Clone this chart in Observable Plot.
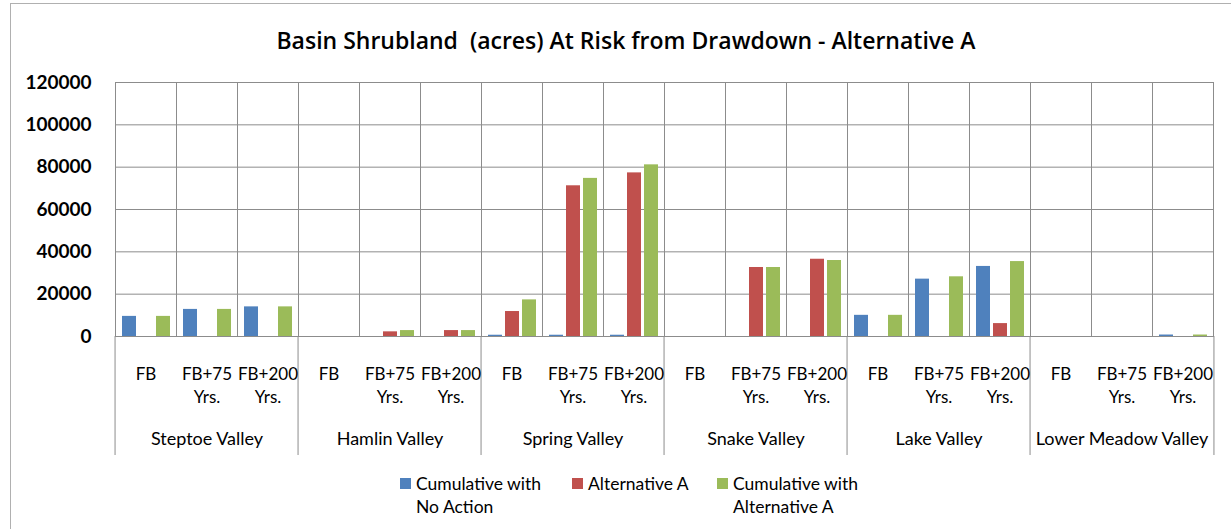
<!DOCTYPE html>
<html>
<head>
<meta charset="utf-8">
<script src="https://cdn.jsdelivr.net/npm/d3@7"></script>
<script src="https://cdn.jsdelivr.net/npm/@observablehq/plot@0.6"></script>
<style>
  html, body { margin: 0; padding: 0; background: #fff; }
  #wrap { position: relative; width: 1231px; height: 529px; font-family: Lato, "Open Sans", sans-serif; color: #000; overflow: hidden; }
  #border { position: absolute; left: 10px; top: 3px; width: 1240px; height: 540px; border-left: 1px solid #b0b0b0; border-top: 1px solid #b0b0b0; }
  #title { position: absolute; left: 0; width: 1252px; top: 24px; text-align: center; font-family: "Open Sans", Lato, sans-serif; font-size: 23px; font-weight: 600; white-space: pre; }
  #chart { position: absolute; left: 0; top: 0; }
  #legend { position: absolute; left: 400px; top: 472px; display: flex; font-size: 17.5px; line-height: 23px; }
  .item { display: flex; align-items: flex-start; }
  .sw { width: 11px; height: 11px; margin-top: 6px; margin-right: 5px; }
  svg [aria-label^="y-axis"] text { font-weight: bold; font-size: 19px; }
</style>
</head>
<body>
<div id="wrap">
  <div id="border"></div>
  <div id="chart"></div>
  <div id="title"></div>
  <div id="legend"></div>
</div>
<script>
const titleText = "Basin Shrubland  (acres) At Risk from Drawdown - Alternative A";
const valleys = ["Steptoe Valley", "Hamlin Valley", "Spring Valley", "Snake Valley", "Lake Valley", "Lower Meadow Valley"];
const periods = ["FB", "FB+75 Yrs.", "FB+200 Yrs."];
const periodLabels = ["FB", "FB+75\nYrs.", "FB+200\nYrs."];
const series = ["Cumulative with No Action", "Alternative A", "Cumulative with Alternative A"];
const seriesLegend = ["Cumulative with\nNo Action", "Alternative A", "Cumulative with\nAlternative A"];
const colors = ["#4F81BD", "#C0504D", "#9BBB59"];
const yTicks = [0, 20000, 40000, 60000, 80000, 100000, 120000];

// values per valley x period (6 x 3 = 18)
const noAction = [9500, 12800, 14000,  0, 0, 0,  600, 600, 600,  0, 0, 0,  10000, 27100, 33100,  0, 0, 700];
const altA     = [0, 0, 0,  0, 2200, 2800,  11800, 71200, 77300,  0, 32600, 36500,  0, 0, 6100,  0, 0, 0];
const cumAltA  = [9500, 12800, 14000,  0, 2800, 2800,  17300, 74700, 81100,  0, 32600, 35900,  10000, 28200, 35400,  0, 0, 700];

const W = 1231, H = 529, ML = 107, MR = 10, MT = 82, MB = 193;
const facetW = (W - ML - MR) / (valleys.length * periods.length);

const cats = [];
valleys.forEach((v, i) => periods.forEach((p, j) => cats.push({key: v + "|" + p, valley: v, period: p, label: periodLabels[j], vi: i, pj: j})));
const keys = cats.map(d => d.key);
const seriesValues = [noAction, altA, cumAltA];
const data = [];
cats.forEach((c, k) => series.forEach((s, si) => data.push({key: c.key, series: s, value: seriesValues[si][k]})));

const starts = cats.filter(c => c.pj === 0);
const lastCat = cats[cats.length - 1];
const mids = cats.filter(c => c.pj === 1);
const grid = "#8c8c8c";

const chart = Plot.plot({
  width: W, height: H,
  marginLeft: ML, marginRight: MR, marginTop: MT, marginBottom: MB,
  style: {fontFamily: "Lato, 'Open Sans', sans-serif", color: "#000", background: "transparent"},
  fx: {domain: keys, padding: 0, axis: null},
  x: {domain: series, paddingInner: 0.2, paddingOuter: 0.35, axis: null},
  y: {domain: [0, 120000], ticks: yTicks, tickFormat: d => String(d), tickSize: 0, tickPadding: 24, label: null},
  color: {domain: series, range: colors},
  marks: [
    Plot.ruleY(yTicks, {stroke: grid, strokeWidth: 1}),
    Plot.frame({stroke: grid, strokeWidth: 1}),
    Plot.barY(data, {fx: "key", x: "series", y: "value", fill: "series"}),
    Plot.ruleX(starts, {fx: "key", x: null, dx: -facetW / 2, stroke: grid, insetTop: H - MT - MB, insetBottom: -119}),
    Plot.ruleX([lastCat], {fx: "key", x: null, dx: facetW / 2, stroke: grid, insetTop: H - MT - MB, insetBottom: -119}),
    Plot.text(cats, {fx: "key", text: "label", frameAnchor: "bottom", lineAnchor: "top", dy: 26, fontSize: 17, lineHeight: 1.41, fill: "#000"}),
    Plot.text(mids, {fx: "key", text: "valley", frameAnchor: "bottom", lineAnchor: "top", dy: 96, fontSize: 18, fill: "#000"})
  ]
});
document.getElementById("chart").appendChild(chart);
document.getElementById("title").textContent = titleText;

const legend = document.getElementById("legend");
const offsets = [0, 172, 317];
series.forEach((s, i) => {
  const it = document.createElement("div");
  it.className = "item";
  it.style.position = "absolute";
  it.style.left = offsets[i] + "px";
  it.style.top = "0px";
  const sw = document.createElement("div");
  sw.className = "sw";
  sw.style.background = colors[i];
  const tx = document.createElement("div");
  tx.style.whiteSpace = "pre";
  tx.textContent = seriesLegend[i];
  it.appendChild(sw); it.appendChild(tx);
  legend.appendChild(it);
});
</script>
</body>
</html>
